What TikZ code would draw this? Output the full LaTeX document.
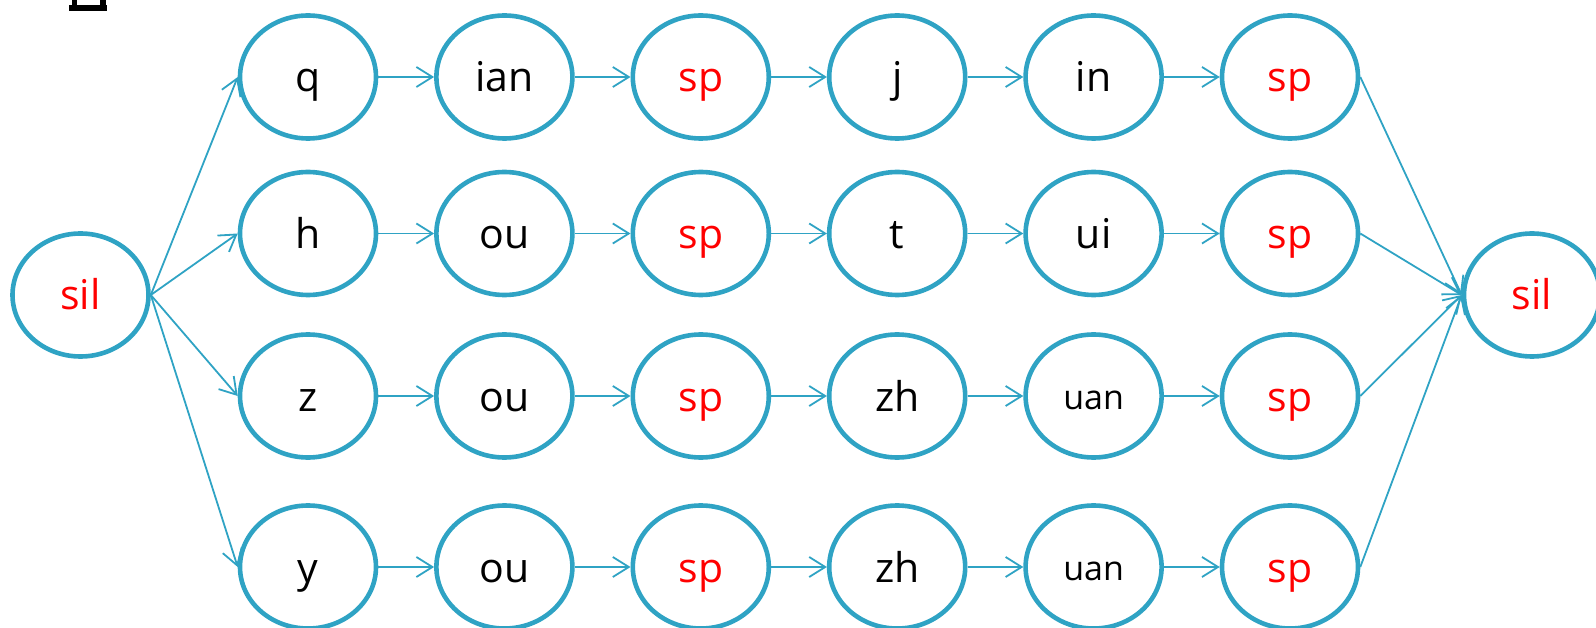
\documentclass[tikz,border=0pt]{standalone}
\usepackage{fontspec}
\setmainfont{Open Sans}
\usetikzlibrary{arrows.meta,shapes.geometric}
\definecolor{ring}{RGB}{47,163,196}
\definecolor{silred}{RGB}{255,0,0}
\begin{document}
\begin{tikzpicture}[x=1pt,y=-1pt,
  state/.style={ellipse,draw=ring,line width=4.6pt,minimum width=136pt,
    minimum height=123pt,inner sep=0pt,text height=30pt,text depth=0pt,
    font=\fontsize{41}{41}\selectfont},
  quiet/.style={state,text=silred},
  small/.style={font=\fontsize{34}{34}\selectfont,text height=27pt},
  link/.style={draw=ring,line width=1.8pt,
    -{Straight Barb[length=16pt,width=20pt]}}]
\useasboundingbox (0,0) rectangle (1596,628);

% fragment of a glyph cut by the top edge
\fill[black] (69,5) rectangle (107,11);
\fill[black] (72,0) rectangle (77,6);
\fill[black] (100,0) rectangle (106,6);

% start and end silence
\node[quiet] (s0) at (80.5,295) {sil};
\node[quiet] (s1) at (1532,295) {sil};

% row 1
\node[state] (a1) at (308,77) {q};
\node[state] (a2) at (504.4,77) {ian};
\node[quiet] (a3) at (700.8,77) {sp};
\node[state] (a4) at (897.2,77) {j};
\node[state] (a5) at (1093.6,77) {in};
\node[quiet] (a6) at (1290,77) {sp};
% row 2
\node[state] (b1) at (308,233.5) {h};
\node[state] (b2) at (504.4,233.5) {ou};
\node[quiet] (b3) at (700.8,233.5) {sp};
\node[state] (b4) at (897.2,233.5) {t};
\node[state] (b5) at (1093.6,233.5) {ui};
\node[quiet] (b6) at (1290,233.5) {sp};
% row 3
\node[state] (c1) at (308,396) {z};
\node[state] (c2) at (504.4,396) {ou};
\node[quiet] (c3) at (700.8,396) {sp};
\node[state] (c4) at (897.2,396) {zh};
\node[state,small] (c5) at (1093.6,396) {uan};
\node[quiet] (c6) at (1290,396) {sp};
% row 4
\node[state] (d1) at (308,567) {y};
\node[state] (d2) at (504.4,567) {ou};
\node[quiet] (d3) at (700.8,567) {sp};
\node[state] (d4) at (897.2,567) {zh};
\node[state,small] (d5) at (1093.6,567) {uan};
\node[quiet] (d6) at (1290,567) {sp};

% chains along each row
\foreach \r in {a,b,c,d}{
  \foreach \i/\j in {1/2,2/3,3/4,4/5,5/6}{
    \draw[link] (\r\i.east) -- (\r\j.west);
  }
  \draw[link] (s0.east) -- (\r1.west);
  \draw[link] (\r6.east) -- (s1.west);
}
\end{tikzpicture}
\end{document}
